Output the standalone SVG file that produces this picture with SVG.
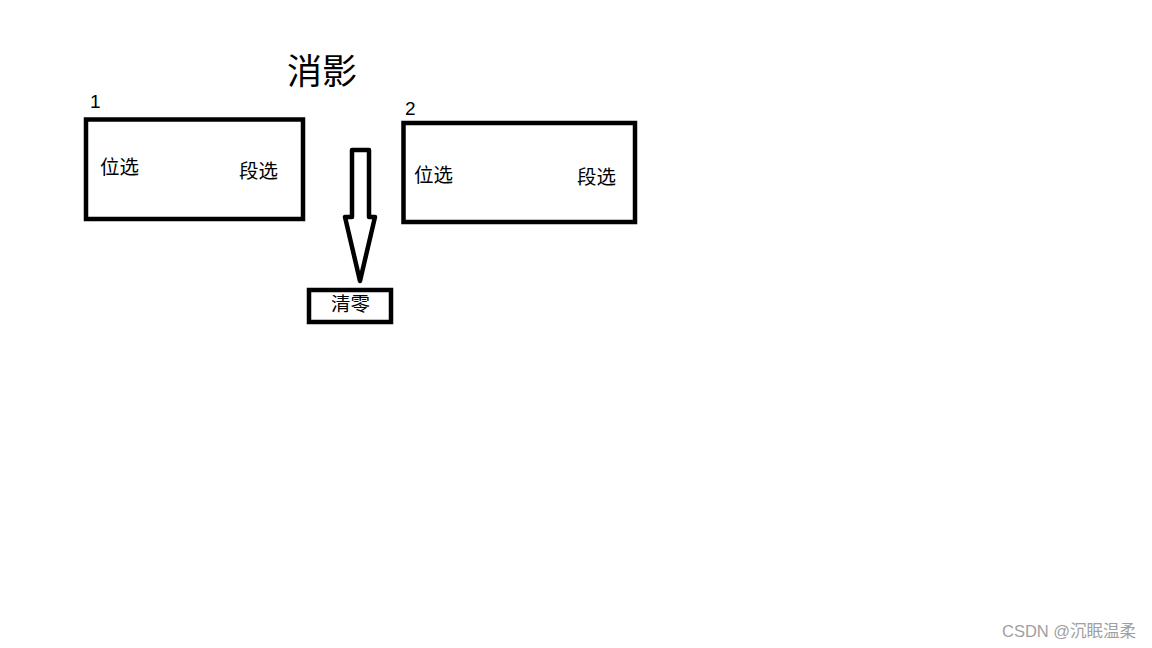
<svg xmlns="http://www.w3.org/2000/svg" width="1152" height="648" viewBox="0 0 1152 648">
<style>
.box{fill:none;stroke:#000;stroke-width:4.5}
.t{font-family:"Noto Sans CJK SC","Liberation Sans",sans-serif;fill:#000}
.lbl{font-size:19.5px}
.num{font-family:"Liberation Sans","Noto Sans CJK SC",sans-serif;font-size:19px;fill:#000}
</style>
<rect width="1152" height="648" fill="#fff"/>
<text class="t" x="287" y="84" font-size="35">消影</text>
<g id="node1">
<rect class="box" x="86" y="119.5" width="217" height="99.5"/>
<text class="num" x="90" y="108">1</text>
<text class="t lbl" x="100" y="174">位选</text>
<text class="t lbl" x="239" y="178">段选</text>
</g>
<g id="node2">
<rect class="box" x="403.5" y="123" width="231.5" height="99"/>
<text class="num" x="405" y="115">2</text>
<text class="t lbl" x="414" y="182">位选</text>
<text class="t lbl" x="577" y="184">段选</text>
</g>
<g id="node3">
<rect class="box" x="309" y="290" width="82" height="32"/>
<text class="t lbl" x="331" y="311">清零</text>
</g>
<g id="connectors">
<path d="M352,150 L369,150 L369,217 L375,217 L360,281 L345,217 L352,217 Z" fill="none" stroke="#000" stroke-width="4.5" stroke-linejoin="round"/>
</g>
<text x="1002" y="637" font-family="'Liberation Sans','Noto Sans CJK SC',sans-serif" font-size="16.5" fill="#a0a0a0">CSDN @沉眠温柔</text>
</svg>
